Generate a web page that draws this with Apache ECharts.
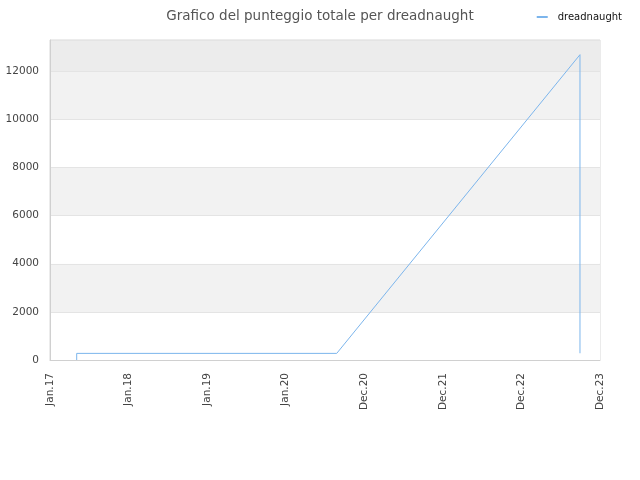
<!DOCTYPE html>
<html>
<head>
<meta charset="utf-8">
<script src="https://cdn.jsdelivr.net/npm/echarts@6/dist/echarts.min.js"></script>
<style>
  html, body { margin: 0; padding: 0; background: #fff; }
  #main { width: 640px; height: 480px; }
</style>
</head>
<body>
<div id="main"></div>
<script>
// dati
let startDate = '2017-01-01'
let dates = ['2017-05-05', '2017-05-05', '2020-08-25', '2023-09-29', '2023-09-29']
let scores = [0, 275, 275, 12690, 280]
let months = ['Jan', 'Feb', 'Mar', 'Apr', 'May', 'Jun', 'Jul', 'Aug', 'Sep', 'Oct', 'Nov', 'Dec']

const DAY = 86400000
let t0 = Date.parse(startDate)
let toDays = d => Math.round((Date.parse(d) - t0) / DAY)

let data = dates.map((d, i) => [toDays(d), scores[i]])

let myChart = echarts.init(document.getElementById('main'))

let option = {
  animation: false,
  title: {
    text: 'Grafico del punteggio totale per dreadnaught',
    left: 'center',
    top: 4,
    textStyle: { fontSize: 13.5, fontWeight: 'normal', color: '#555', fontFamily: 'DejaVu Sans' }
  },
  legend: {
    right: 13,
    top: 7,
    itemWidth: 11,
    itemHeight: 2,
    icon: 'rect',
    textStyle: { fontSize: 10, color: '#111', fontFamily: 'DejaVu Sans', padding: [0, 0, 0, 5] },
    data: ['dreadnaught']
  },
  grid: {
    left: 50, right: 40, top: 40, bottom: 120,
    show: true, borderColor: '#d8d8d8', borderWidth: 1
  },
  xAxis: {
    type: 'value',
    min: 0,
    max: 7 * 365,
    interval: 365,
    axisLine: { show: true, lineStyle: { color: '#d0d0d0' } },
    axisTick: { show: false },
    splitLine: { show: false },
    axisLabel: {
      rotate: 90,
      fontSize: 10.5,
      color: '#444',
      fontFamily: 'DejaVu Sans',
      margin: 13,
      formatter: v => {
        let d = new Date(t0 + v * DAY)
        return months[d.getUTCMonth()] + '.' + String(d.getUTCFullYear()).slice(2)
      }
    }
  },
  yAxis: {
    type: 'value',
    min: 0,
    max: 13300,
    interval: 2000,
    axisLine: { show: true, lineStyle: { color: '#d0d0d0' } },
    axisTick: { show: false },
    axisLabel: {
      fontSize: 10.5, color: '#444', fontFamily: 'DejaVu Sans', showMaxLabel: false, margin: 11,
      formatter: v => String(v)
    },
    splitLine: { show: true, lineStyle: { color: '#e4e4e4' } },
    splitArea: {
      show: true,
      areaStyle: { color: ['#ffffff', '#f2f2f2', '#ffffff', '#f2f2f2', '#ffffff', '#f2f2f2', '#ececec'] }
    }
  },
  series: [
    {
      name: 'dreadnaught',
      type: 'line',
      data: data,
      symbol: 'none',
      lineStyle: { color: '#7cb5ec', width: 1 },
      itemStyle: { color: '#7cb5ec' }
    }
  ]
}

myChart.setOption(option)
</script>
</body>
</html>
